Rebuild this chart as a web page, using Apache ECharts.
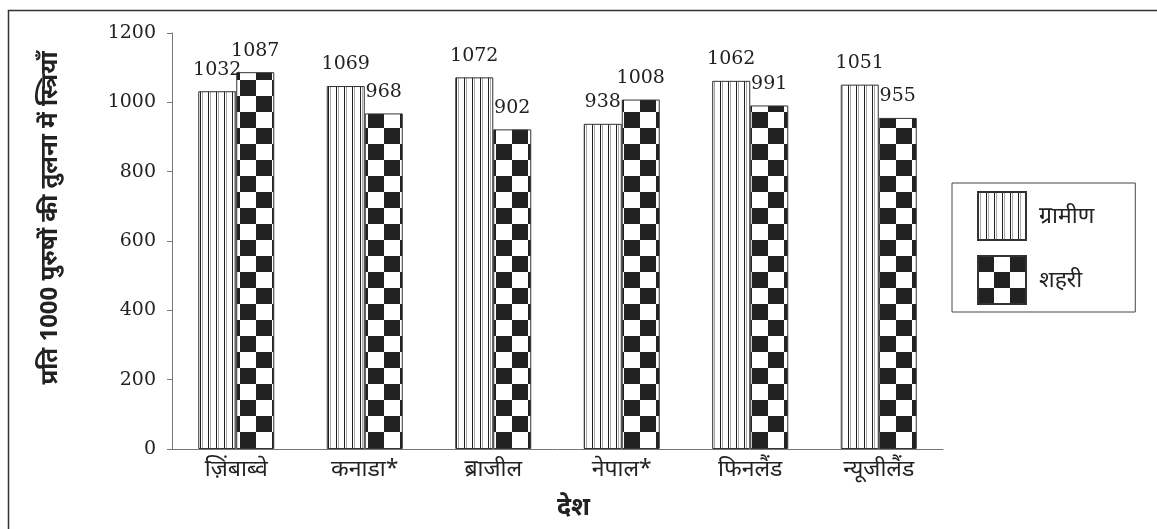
<!DOCTYPE html>
<html>
<head>
<meta charset="utf-8">
<script src="https://cdn.jsdelivr.net/npm/echarts@6/dist/echarts.min.js"></script>
<style>
  html, body { margin: 0; padding: 0; background: #fff; }
  #main { width: 1157px; height: 529px; }
</style>
</head>
<body>
<div id="main"></div>
<script>
// देश
var countries = ['ज़िंबाब्वे', 'कनाडा*', 'ब्राजील', 'नेपाल*', 'फिनलैंड', 'न्यूजीलैंड'];
// bar heights as drawn
var rural = [1032, 1047, 1072, 938, 1062, 1051];
var urban = [1087, 968, 922, 1008, 991, 955];
// printed numbers above bars
var ruralText = ['1032', '1069', '1072', '938', '1062', '1051'];
var urbanText = ['1087', '968', '902', '1008', '991', '955'];
var yTicks = [0, 1200, 200]; // min, max, step

// vertical stripes fill
function stripes() {
    var c = document.createElement('canvas');
    c.width = 8; c.height = 8;
    var ctx = c.getContext('2d');
    ctx.fillStyle = '#fff';
    ctx.fillRect(0, 0, 8, 8);
    ctx.fillStyle = '#222';
    ctx.fillRect(0, 0, 1, 8);
    ctx.fillStyle = '#aaa';
    ctx.fillRect(2, 0, 1, 8);
    return c;
}
// checker board fill
function checker() {
    var c = document.createElement('canvas');
    c.width = 32; c.height = 32;
    var ctx = c.getContext('2d');
    ctx.fillStyle = '#fff';
    ctx.fillRect(0, 0, 32, 32);
    ctx.fillStyle = '#222';
    ctx.fillRect(0, 0, 16, 16);
    ctx.fillRect(16, 16, 16, 16);
    return c;
}

var serif = 'DejaVu Serif';
var deva = 'Noto Sans, sans-serif';

var myChart = echarts.init(document.getElementById('main'));
var option = {
    backgroundColor: '#fff',
    animation: false,
    graphic: [{
        type: 'rect',
        shape: { x: 8.5, y: 10.5, width: 1300, height: 700 },
        style: { fill: 'none', stroke: '#333', lineWidth: 1.5 },
        silent: true
    }],
    grid: { left: 172, right: 214, top: 33, bottom: 80 },
    legend: {
        orient: 'vertical',
        left: 952, top: 183,
        icon: 'rect',
        itemWidth: 48, itemHeight: 48, itemGap: 14,
        padding: [8, 41, 7, 25],
        borderColor: '#444', borderWidth: 1,
        textStyle: { fontFamily: deva, fontSize: 23, color: '#222', padding: [0, 0, 0, 8] },
        data: ['ग्रामीण', 'शहरी']
    },
    xAxis: {
        type: 'category',
        data: countries,
        name: 'देश',
        nameLocation: 'middle',
        nameGap: 46,
        nameTextStyle: { fontFamily: deva, fontSize: 25, fontWeight: 'bold', color: '#222', padding: [0, 0, 0, 32] },
        axisLine: { lineStyle: { color: '#777', width: 1 } },
        axisTick: { length: 5, lineStyle: { color: '#777' } },
        axisLabel: { fontFamily: deva, fontSize: 23, color: '#222', margin: 9 }
    },
    yAxis: {
        type: 'value',
        min: yTicks[0], max: yTicks[1], interval: yTicks[2],
        name: 'प्रति 1000 पुरुषों की तुलना में स्त्रियाँ',
        nameLocation: 'middle',
        nameGap: 110,
        nameTextStyle: { fontFamily: deva, fontSize: 24, fontWeight: 'bold', color: '#222', padding: [0, 0, 0, 46] },
        splitLine: { show: false },
        axisLine: { show: true, lineStyle: { color: '#777', width: 1 } },
        axisTick: { show: true, length: 5, lineStyle: { color: '#777' } },
        axisLabel: {
            fontFamily: serif, fontSize: 19, color: '#222', margin: 16,
            formatter: function (v) { return String(v); }
        }
    },
    series: [{
        name: 'ग्रामीण',
        type: 'bar',
        data: rural,
        barWidth: 38,
        barGap: '0%',
        itemStyle: { color: { image: stripes(), repeat: 'repeat' }, borderColor: '#333', borderWidth: 1 },
        label: {
            show: true, position: 'top', distance: 12,
            fontFamily: serif, fontSize: 19, color: '#222',
            formatter: function (p) { return ruralText[p.dataIndex]; }
        }
    }, {
        name: 'शहरी',
        type: 'bar',
        data: urban,
        barWidth: 38,
        itemStyle: { color: { image: checker(), repeat: 'repeat' }, borderColor: '#333', borderWidth: 1 },
        label: {
            show: true, position: 'top', distance: 12,
            fontFamily: serif, fontSize: 19, color: '#222',
            formatter: function (p) { return urbanText[p.dataIndex]; }
        }
    }]
};
myChart.setOption(option);
</script>
</body>
</html>
